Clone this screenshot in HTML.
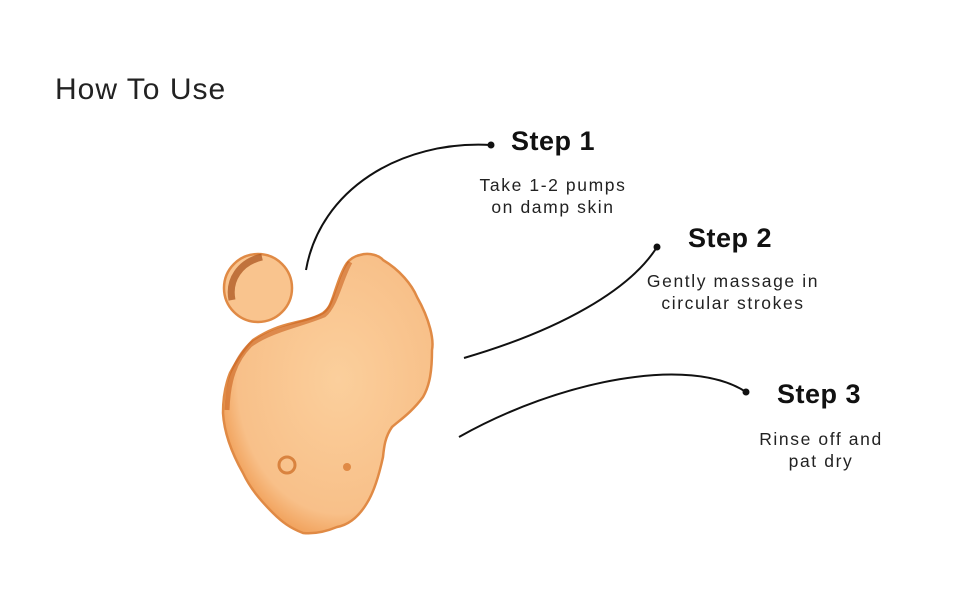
<!DOCTYPE html>
<html><head><style>
body{margin:0;width:970px;height:600px;background:#fff;overflow:hidden;position:relative;font-family:"Liberation Sans",sans-serif;}
.t{position:absolute;color:#111;}
.h{font-size:30px;left:55px;top:73px;color:#222;letter-spacing:1px;}
.s{font-size:27px;font-weight:bold;letter-spacing:0.5px;}
.d{font-size:17.5px;text-align:center;line-height:22px;color:#222;letter-spacing:1.6px;}
</style></head><body>
<svg width="970" height="600" style="position:absolute;left:0;top:0">
<defs>
<radialGradient id="g" cx="0.55" cy="0.45" r="0.6">
<stop offset="0" stop-color="#fbcf9c"/><stop offset="0.8" stop-color="#f8c089"/><stop offset="1" stop-color="#ef9a50"/>
</radialGradient>
</defs>
<path d="M360,255 C370,252 380,256 383,260 C400,270 412,285 417,297 C430,320 434,340 432,350 C432,370 430,385 423,397 C412,412 400,420 392,427 C385,437 384,447 383,457 C378,480 372,495 367,503 C358,518 348,525 337,527 C325,532 313,534 303,533 C290,528 282,522 273,513 C260,500 250,488 243,473 C230,450 224,430 223,413 C223,395 226,383 230,373 C238,358 245,348 253,340 C268,330 280,326 293,323 C305,320 315,318 323,313 C330,308 331,302 333,297 C338,282 342,270 347,263 C351,258 355,256 360,255 Z" fill="url(#g)" stroke="#e08a45" stroke-width="2.5"/>
<path d="M350,262 C340,280 336,305 324,315 C300,325 270,330 250,345 C235,360 228,380 227,410" fill="none" stroke="#c9621f" stroke-width="5" opacity="0.6"/>
<circle cx="258" cy="288" r="34" fill="#f9c48e" stroke="#e08a45" stroke-width="2.5"/>
<path d="M232,300 C228,280 240,262 262,257" fill="none" stroke="#a8501a" stroke-width="7" opacity="0.7"/>
<circle cx="287" cy="465" r="8" fill="none" stroke="#d9833f" stroke-width="3"/>
<circle cx="347" cy="467" r="4" fill="#e08a45"/>
<g fill="none" stroke="#111" stroke-width="2">
<path d="M306,270 C320,190 400,140 491,145"/>
<path d="M464,358 C560,330 630,290 657,247"/>
<path d="M459,437 C560,380 690,355 746,392"/>
</g>
<g fill="#111"><circle cx="491" cy="145" r="3.5"/><circle cx="657" cy="247" r="3.5"/><circle cx="746" cy="392" r="3.5"/></g>
</svg>
<div class="t h">How To Use</div>
<div class="t s" style="left:511px;top:126px">Step 1</div>
<div class="t d" style="left:443px;top:174px;width:220px">Take 1-2 pumps<br>on damp skin</div>
<div class="t s" style="left:688px;top:223px">Step 2</div>
<div class="t d" style="left:613px;top:270px;width:240px">Gently massage in<br>circular strokes</div>
<div class="t s" style="left:777px;top:379px">Step 3</div>
<div class="t d" style="left:711px;top:428px;width:220px">Rinse off and<br>pat dry</div>
</body></html>
